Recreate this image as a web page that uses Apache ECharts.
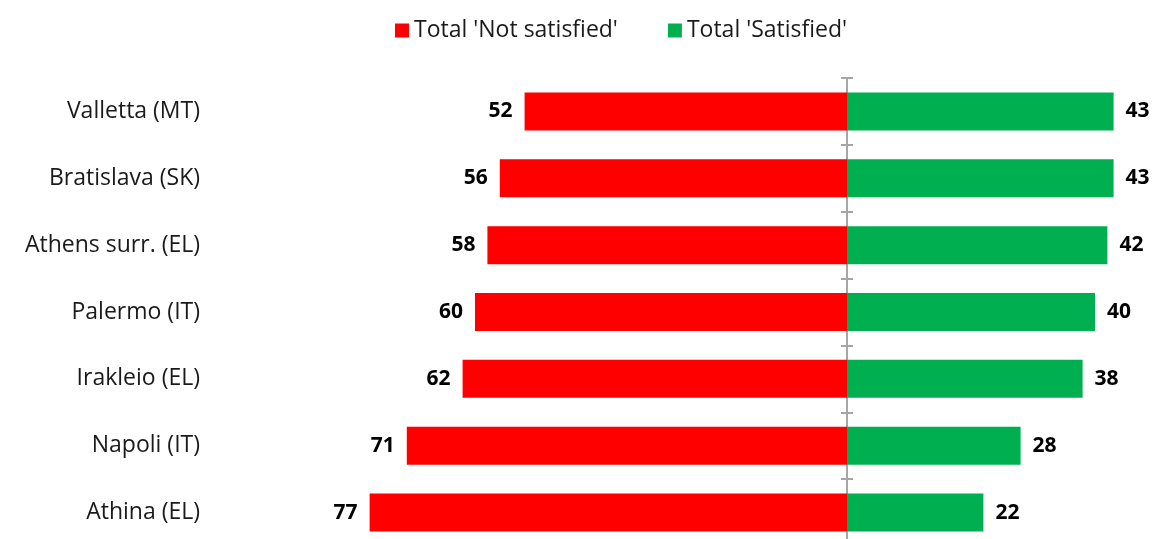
<!DOCTYPE html>
<html><head><meta charset="utf-8">
<script src="https://cdn.jsdelivr.net/npm/echarts@6/dist/echarts.min.js"></script>
<style>html,body{margin:0;padding:0;background:#fff;overflow:hidden}#c{width:1157px;height:546px}</style>
</head><body><div id="c"></div>
<script>
const categories = ["Valletta (MT)", "Bratislava (SK)", "Athens surr. (EL)", "Palermo (IT)", "Irakleio (EL)", "Napoli (IT)", "Athina (EL)"];
const notSatisfied = [52, 56, 58, 60, 62, 71, 77];
const satisfied = [43, 43, 42, 40, 38, 28, 22];
const seriesNames = ["Total 'Not satisfied'", "Total 'Satisfied'"];

const chart = echarts.init(document.getElementById('c'));
const font = "Open Sans";
const catAxisBase = {type: 'category', data: categories, inverse: true};
chart.setOption({
  animation: false,
  textStyle: {fontFamily: font},
  legend: {
    top: 14, left: 390, itemWidth: 14, itemHeight: 14, itemGap: 50,
    icon: 'rect',
    textStyle: {fontSize: 23, color: '#1a1a1a', fontFamily: font},
    data: seriesNames
  },
  grid: {left: 351, right: 0, top: 78, bottom: 0, containLabel: false},
  xAxis: {type: 'value', min: -80, max: 50, show: false},
  yAxis: [
    Object.assign({}, catAxisBase, {
      position: 'left',
      axisLine: {show: false, onZero: false},
      axisTick: {show: false},
      axisLabel: {margin: 151, fontSize: 23, color: '#1a1a1a', fontFamily: font}
    }),
    Object.assign({}, catAxisBase, {
      position: 'left',
      axisLine: {show: true, onZero: true, lineStyle: {color: '#a6a6a6', width: 2}},
      axisTick: {show: true, inside: false, length: 6, lineStyle: {color: '#a6a6a6', width: 2}},
      axisLabel: {show: false}
    }),
    Object.assign({}, catAxisBase, {
      position: 'right', offset: -310,
      axisLine: {show: false, onZero: false},
      axisTick: {show: true, inside: false, length: 6, lineStyle: {color: '#a6a6a6', width: 2}},
      axisLabel: {show: false}
    })
  ],
  series: [
    {
      name: seriesNames[0], type: 'bar', yAxisIndex: 1, stack: 'a',
      barWidth: 38, itemStyle: {color: '#ff0000'},
      data: notSatisfied.map(v => -v),
      label: {show: true, position: 'left', distance: 12, fontSize: 21, fontWeight: 'bold', color: '#000',
        formatter: p => Math.abs(p.value)}
    },
    {
      name: seriesNames[1], type: 'bar', yAxisIndex: 1, stack: 'a',
      barWidth: 38, itemStyle: {color: '#00b050'},
      data: satisfied,
      label: {show: true, position: 'right', distance: 12, fontSize: 21, fontWeight: 'bold', color: '#000'}
    }
  ]
});
</script></body></html>
